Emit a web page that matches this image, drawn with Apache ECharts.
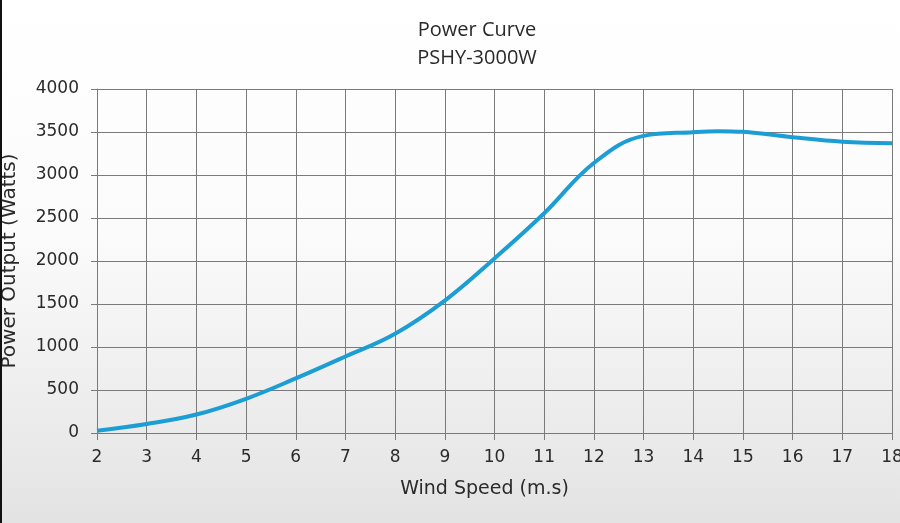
<!DOCTYPE html>
<html>
<head>
<meta charset="utf-8">
<script src="https://cdn.jsdelivr.net/npm/echarts@6/dist/echarts.min.js"></script>
<style>
  html, body { margin: 0; padding: 0; }
  #main { width: 900px; height: 523px; }
</style>
</head>
<body>
<div id="main"></div>
<script>
    // wind speed (m/s) and power output (W)
    var windSpeed = [2, 3, 4, 5, 6, 7, 8, 9, 10, 11, 12, 13, 14, 14.5, 15, 16, 17, 18];
    var powerOut = [27, 105, 215, 398, 635, 890, 1155, 1540, 2030, 2555, 3140, 3455, 3498, 3510, 3502, 3440, 3388, 3370];

    var xTicks = { min: 2, max: 18, step: 1 };
    var yTicks = { min: 0, max: 4000, step: 500 };

    var points = [];
    for (var i = 0; i < windSpeed.length; i++) {
        points.push([windSpeed[i], powerOut[i]]);
    }

    var myChart = echarts.init(document.getElementById('main'));
    var labelFont = 'DejaVu Sans';
    var gridColor = '#7a7a7a';

    var option = {
        animation: false,
        backgroundColor: {
            type: 'linear', x: 0, y: 0, x2: 0, y2: 1,
            colorStops: [
                { offset: 0, color: '#ffffff' },
                { offset: 0.45, color: '#fbfbfb' },
                { offset: 1, color: '#e3e3e3' }
            ]
        },
        title: {
            text: 'Power Curve',
            subtext: 'PSHY-3000W',
            left: 472,
            textAlign: 'center',
            top: 15,
            itemGap: 8,
            textStyle: { fontFamily: 'Open Sans', fontWeight: 'normal', fontSize: 20, color: '#2a2a2a' },
            subtextStyle: { fontFamily: 'Open Sans', fontSize: 20, color: '#2a2a2a' }
        },
        grid: { left: 97, right: 8, top: 89, bottom: 90, outerBoundsMode: 'none', containLabel: false },
        xAxis: {
            type: 'value',
            min: xTicks.min,
            max: xTicks.max,
            interval: xTicks.step,
            name: 'Wind Speed (m.s)',
            nameLocation: 'middle',
            nameGap: 47,
            nameTextStyle: { fontFamily: labelFont, fontSize: 19, color: '#2a2a2a', padding: [0, 20, 0, 0] },
            axisLine: { lineStyle: { color: gridColor, width: 1 } },
            axisTick: { show: true, length: 7, lineStyle: { color: gridColor } },
            axisLabel: { margin: 16, fontFamily: labelFont, fontSize: 17, color: '#2a2a2a' },
            splitLine: { show: true, lineStyle: { color: gridColor, width: 1 } }
        },
        yAxis: {
            type: 'value',
            min: yTicks.min,
            max: yTicks.max,
            interval: yTicks.step,
            name: 'Power Output (Watts)',
            nameLocation: 'middle',
            nameGap: 77,
            nameTextStyle: { fontFamily: labelFont, fontSize: 20, color: '#2a2a2a' },
            axisLine: { show: true, lineStyle: { color: gridColor, width: 1 } },
            axisTick: { show: true, length: 6, lineStyle: { color: gridColor } },
            axisLabel: {
                margin: 18, fontFamily: labelFont, fontSize: 17, color: '#2a2a2a',
                formatter: function (v) { return String(v); }
            },
            splitLine: { show: true, lineStyle: { color: gridColor, width: 1 } }
        },
        graphic: [{
            type: 'rect',
            left: 0, top: 0,
            shape: { width: 2, height: 523 },
            style: { fill: '#111' },
            z: 100
        }],
        series: [{
            type: 'line',
            data: points,
            smooth: 0.4,
            showSymbol: false,
            lineStyle: { color: '#1c9dd4', width: 4 },
            z: 5
        }]
    };
    myChart.setOption(option);
</script>
</body>
</html>
